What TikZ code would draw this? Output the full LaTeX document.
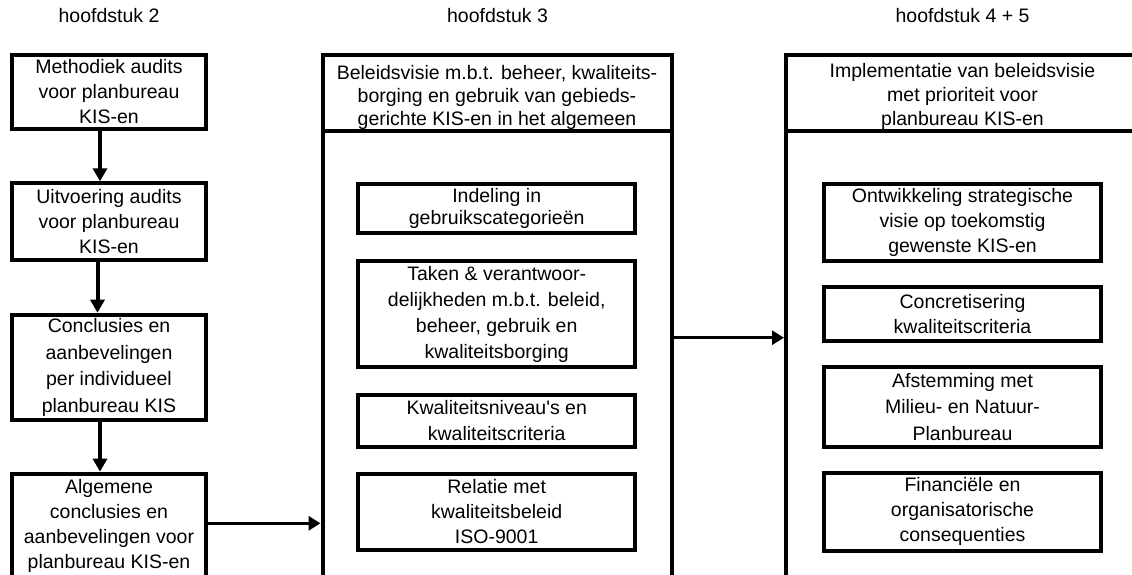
\documentclass[tikz,border=0pt]{standalone}
\usepackage{fontspec}
\setmainfont{Liberation Sans}
\usetikzlibrary{arrows.meta}
\begin{document}
\begin{tikzpicture}[x=1pt,y=-1pt,
  tx/.style={font=\fontsize{19.5}{#1}\selectfont,align=center,inner sep=0pt},
  tx/.default=25,
  bx/.style={draw,line width=4pt,inner sep=0pt,align=center,font=\fontsize{19.5}{25}\selectfont},
  colframe/.style={line width=4pt},
  arr/.style={-{Triangle[width=14pt,length=12pt]},line width=3pt},
  varr/.style={-{Triangle[width=14pt,length=13pt]},line width=4pt}]
\useasboundingbox (0,0) rectangle (1132,575);
\clip (0,0) rectangle (1132,575);

% chapter titles
\node[tx,anchor=base] (h2) at (109,22.7) {hoofdstuk 2};
\node[tx,anchor=base] (h3) at (497.5,22.7) {hoofdstuk 3};
\node[tx,anchor=base] (h45) at (962.5,22.7) {hoofdstuk 4 + 5};

% left column
\node[bx,minimum width=194pt,minimum height=73.5pt] (b1) at (109,92) {Methodiek audits\\voor planbureau\\KIS-en};
\node[bx,minimum width=194pt,minimum height=77pt] (b2) at (109,221.8) {Uitvoering audits\\voor planbureau\\KIS-en};
\node[bx,minimum width=194pt,minimum height=105.6pt,font=\fontsize{19.5}{26.7}\selectfont] (b3) at (109,367.5) {Conclusies en\\aanbevelingen\\per individueel\\planbureau KIS};
\node[bx,minimum width=194pt,minimum height=126.3pt] (b4) at (109,536.85) {};
\node[tx] (b4t) at (109,525.5) {Algemene\\conclusies en\\aanbevelingen voor\\planbureau KIS-en};

\draw[varr] ([xshift=-9pt]b1.south) -- ([xshift=-9pt]b2.north);
\draw[varr] ([xshift=-11.5pt]b2.south) -- ([xshift=-11.5pt]b3.north);
\draw[varr] ([xshift=-9pt]b3.south) -- ([xshift=-9pt]b4.north);

% middle column frame
\draw[colframe] (322.5,600) -- (322.5,55.5) -- (671.7,55.5) -- (671.7,600);
\draw[colframe] (322.5,131) -- (671.7,131);
\node[tx=23] (m0) at (497,97) {Beleidsvisie m.b.t. beheer, kwaliteits-\\borging en gebruik van gebieds-\\gerichte KIS-en in het algemeen};
\coordinate (mL) at (320.5,523.3);
\coordinate (mR) at (673.7,337.7);

\node[bx,minimum width=277pt,minimum height=49.3pt,font=\fontsize{19.5}{22}\selectfont] (ma) at (496.7,208.8) {Indeling in\\gebruikscategorie\"en};
\node[bx,minimum width=277pt,minimum height=105.7pt,font=\fontsize{19.5}{26}\selectfont] (mb) at (496.7,314) {Taken \& verantwoor-\\delijkheden m.b.t. beleid,\\beheer, gebruik en\\kwaliteitsborging};
\node[bx,minimum width=277pt,minimum height=52.3pt,font=\fontsize{19.5}{26}\selectfont] (mc) at (496.7,420.8) {Kwaliteitsniveau\textquotesingle s en\\kwaliteitscriteria};
\node[bx,minimum width=277pt,minimum height=76.7pt] (md) at (496.7,512) {Relatie met\\kwaliteitsbeleid\\ISO-9001};

\draw[arr] (b4.east |- mL) -- (mL);

% right column frame
\draw[colframe] (786,600) -- (786,55.5) -- (1140,55.5);
\draw[colframe] (786,131) -- (1140,131);
\node[tx=24] (r0) at (962.5,96) {Implementatie van beleidsvisie\\met prioriteit voor\\planbureau KIS-en};
\coordinate (rL) at (784,337.7);

\node[bx,minimum width=277.6pt,minimum height=77pt] (re) at (962.5,222.2) {Ontwikkeling strategische\\visie op toekomstig\\gewenste KIS-en};
\node[bx,minimum width=277.6pt,minimum height=54.3pt] (rf) at (962.5,314.2) {Concretisering\\kwaliteitscriteria};
\node[bx,minimum width=277.6pt,minimum height=80pt,font=\fontsize{19.5}{26.7}\selectfont] (rg) at (962.5,407) {Afstemming met\\Milieu- en Natuur-\\Planbureau};
\node[bx,minimum width=277.6pt,minimum height=77.7pt] (rh) at (962.5,511.8) {Financi\"ele en\\organisatorische\\consequenties};

\draw[arr] (mR) -- (rL);
\end{tikzpicture}
\end{document}
